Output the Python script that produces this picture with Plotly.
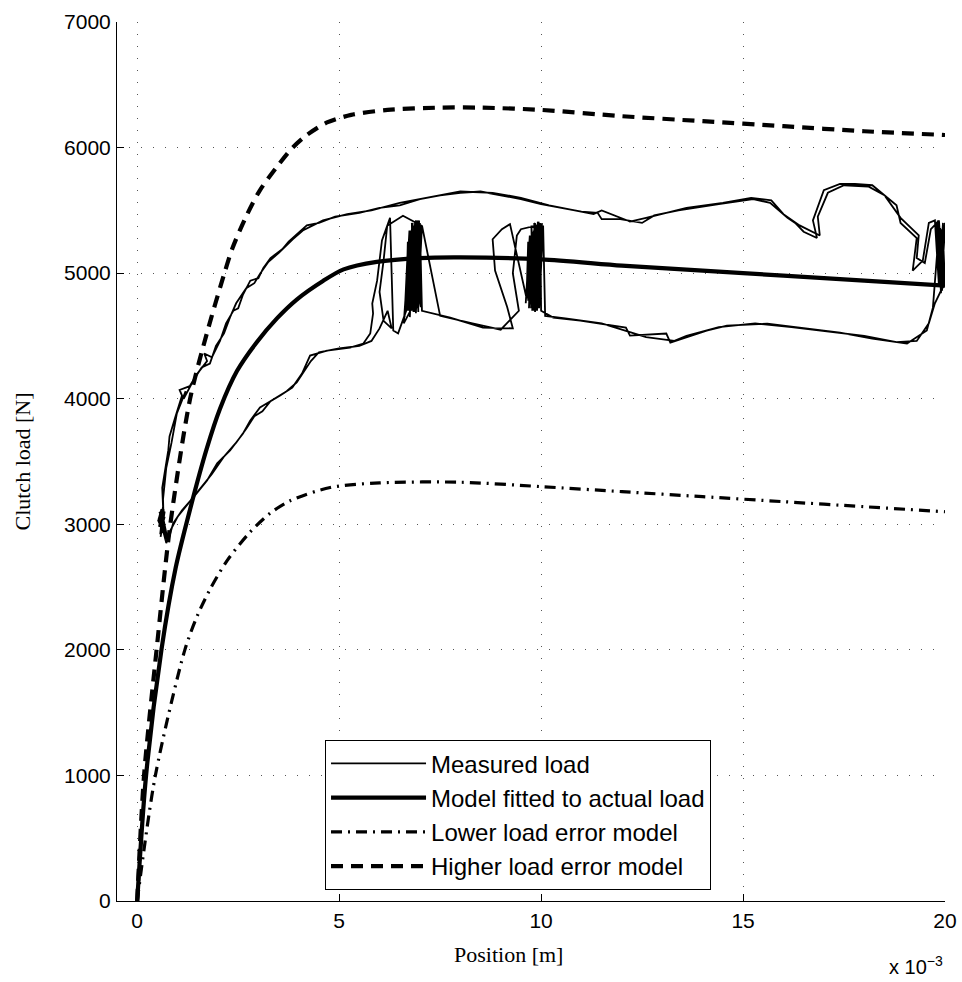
import plotly.graph_objects as go

# x values are in units of 1e-3 m (axis shows "x 10^-3")
model_x = [0, 0.22, 0.6, 0.95, 1.31, 1.72, 2.05, 2.47, 2.96, 3.46, 3.95, 4.61, 5.11, 5.93, 7.0, 8.0, 10.0, 12.0, 14.0, 16.0, 18.0, 20.0]
model_y = [0, 1000, 2000, 2650, 3120, 3600, 3920, 4220, 4450, 4640, 4790, 4940, 5030, 5090, 5120, 5125, 5110, 5060, 5020, 4980, 4940, 4900]

high_x = [0, 0.17, 0.48, 0.82, 1.31, 1.75, 2.16, 2.36, 2.67, 3.03, 3.50, 3.85, 4.2, 4.7, 5.3, 6.2, 7.5, 8.5, 10.0, 12.0, 14.0, 16.0, 18.0, 20.0]
high_y = [0, 1000, 2000, 3000, 4000, 4550, 5000, 5200, 5433, 5656, 5863, 6000, 6100, 6200, 6260, 6300, 6318, 6318, 6300, 6250, 6210, 6170, 6130, 6100]

low_x = [0, 0.45, 1.18, 1.5, 1.8, 2.23, 2.8, 3.3, 3.8, 4.78, 6.0, 8.0, 10.0, 12.0, 14.0, 16.0, 18.0, 20.0]
low_y = [0, 1000, 2000, 2280, 2480, 2713, 2940, 3090, 3190, 3293, 3330, 3335, 3300, 3260, 3220, 3180, 3140, 3100]

measured_x = [
    # pass 1: start cluster
    0.60, 0.55, 0.70, 0.58, 0.66, 0.52, 0.72, 0.62, 0.57, 0.68, 0.54, 0.64,
    # upper branch
    0.62, 0.77, 0.80, 0.94, 1.11, 1.05, 1.30, 1.49, 1.73, 1.66, 1.85, 2.05, 2.20, 2.38, 2.50, 2.62, 2.80, 3.00,
    3.12, 3.30, 3.59, 3.75, 3.96, 4.20, 4.50, 4.90, 5.50, 6.00, 6.50, 7.00, 7.50, 8.00, 8.50, 9.00, 9.50, 10.00,
    11.00, 11.40, 11.50, 11.96, 12.50, 12.80, 13.40, 14.40, 15.25, 15.67, 16.10, 16.29, 16.50, 16.83, 16.73, 17.00,
    17.40, 17.77, 18.20, 18.80, 18.90, 19.30, 19.20, 19.45, 19.60, 19.75,
    # cluster at 20
    19.85, 19.80, 19.90, 19.85, 19.95, 19.90, 20.00, 19.95, 19.85, 20.00, 19.90, 19.82, 19.92, 19.88, 19.97, 19.84,
    # lower branch back
    19.70, 19.55, 19.06, 18.20, 17.40, 16.60, 15.60, 14.60, 14.10, 13.20, 13.10, 12.20, 12.10, 10.97, 10.30,
    # cluster at 10
    10.00, 9.98, 9.90, 9.95, 9.85, 9.92, 9.82, 9.88, 9.78, 9.85, 9.75, 9.80, 9.70, 9.75, 9.66, 9.70, 9.62,
    9.72, 9.80, 9.76, 9.86, 9.83, 9.93, 9.90, 9.96, 9.68, 9.64,
    9.23, 9.03, 8.80, 8.86, 9.16, 9.30,
    8.56, 7.75,
    # cluster at 7
    7.05, 7.00, 6.92, 6.98, 6.88, 6.95, 6.85, 6.90, 6.82, 6.88, 6.78, 6.85, 6.75, 6.80, 6.72, 6.78, 6.68, 6.70, 6.62,
    6.74, 6.84, 6.80, 6.90, 6.86, 6.96, 6.93, 7.02, 6.70, 6.66,
    6.46, 6.34, 6.30, 6.26, 6.06, 5.94, 5.82, 5.84, 5.77, 5.60, 5.27,
    # lower branch to start
    4.70, 4.28, 4.20, 4.08, 3.84, 3.54, 3.04, 2.80, 2.62, 2.30, 1.98, 1.73, 1.39, 1.11, 0.89, 0.77, 0.65,
    # pass 2: cluster
    0.68, 0.56, 0.74, 0.60, 0.53, 0.66,
    # upper branch
    0.64, 0.72, 0.85, 0.98, 1.20, 1.15, 1.40, 1.60, 1.80, 1.95, 2.15, 2.30, 2.45, 2.70, 2.90, 3.05, 3.25, 3.50,
    3.85, 4.10, 4.60, 5.20, 5.80, 6.50, 7.20, 8.00, 8.80, 9.50, 10.20, 10.80, 11.30, 11.50, 12.20, 12.60, 13.00,
    13.60, 14.50, 15.20, 15.70, 16.00, 16.40, 16.90, 16.85, 17.10, 17.50, 18.10, 18.50, 18.90, 19.35, 19.30,
    19.50, 19.65, 19.80,
    # cluster at 20
    19.95, 19.85, 19.90, 20.00, 19.85, 19.95, 19.90, 19.98, 19.88, 19.80, 19.93, 19.86, 19.96,
    # lower branch
    19.75, 19.60, 19.30, 18.80, 18.00, 17.00, 16.20, 15.30, 14.40, 13.60, 13.30, 12.60, 12.30, 11.50, 10.60, 10.10,
    # cluster at 10
    10.05, 9.95, 10.00, 9.90, 9.95, 9.85, 9.90, 9.80, 9.85, 9.75, 9.82, 9.72, 9.78, 9.68, 9.70,
    9.76, 9.88, 9.84, 9.94, 9.92, 10.02,
    9.50, 9.40, 9.30, 9.45,
    9.00, 8.30, 7.50,
    # cluster at 7
    7.05, 6.95, 7.00, 6.90, 6.95, 6.85, 6.90, 6.80, 6.85, 6.75, 6.82, 6.72, 6.78, 6.70, 6.75, 6.60,
    6.78, 6.88, 6.84, 6.94, 6.92, 7.03,
    6.58, 6.19, 6.10, 6.00, 6.10, 6.30, 6.20, 6.00, 5.80, 5.50,
    # lower branch
    5.00, 4.50, 4.30, 4.15, 3.95, 3.70, 3.30, 3.10, 2.90, 2.70, 2.45, 2.15, 1.85, 1.55, 1.25, 1.00, 0.82, 0.72,
    0.60, 0.55, 0.68, 0.58, 0.64,
]
measured_y = [
    3050, 3100, 2950, 3000, 3120, 3030, 2880, 3080, 2920, 3060, 2980, 3140,
    3290, 3590, 3700, 3850, 4025, 4070, 4100, 4200, 4300, 4360, 4330, 4460, 4600, 4700, 4720, 4830, 4940, 4960,
    5040, 5120, 5190, 5250, 5310, 5380, 5400, 5450, 5480, 5520, 5540, 5590, 5620, 5640, 5650, 5620, 5590, 5550,
    5490, 5480, 5430, 5430, 5400, 5460, 5500, 5550, 5590, 5560, 5440, 5400, 5330, 5280, 5420, 5660,
    5710, 5710, 5700, 5540, 5400, 5280, 5020, 5100, 5400, 5420,
    4900, 5400, 4850, 5380, 4880, 5350, 4900, 5300, 4950, 5400, 4840, 5420, 4870, 5360, 4920, 5300,
    4725, 4543, 4439, 4479, 4527, 4558, 4598, 4582, 4543, 4447, 4519, 4503, 4566, 4622, 4646,
    4700, 5400, 4720, 5380, 4690, 5410, 4740, 5360, 4700, 5400, 4760, 5330, 4720, 5280, 4800, 5200, 4760,
    5300, 4730, 5380, 4700, 5400, 4720, 5350, 4750, 5250, 4800,
    5390, 5350, 5270, 5020, 4730, 4560,
    4566, 4646,
    4700, 5380, 4720, 5420, 4690, 5400, 4740, 5360, 4700, 5410, 4720, 5380, 4680, 5350, 4740, 5300, 4700, 5200, 4650,
    5340, 4700, 5400, 4720, 5380, 4690, 5360, 4730, 5250, 4700,
    4520, 4543, 5000, 5440, 5260, 4940, 4757, 4678, 4519, 4439, 4407,
    4383, 4344, 4280, 4200, 4089, 4025, 3930, 3827, 3723, 3588, 3485, 3349, 3214, 3111, 3007, 2872, 2950,
    2980, 3060, 2900, 3120, 3040, 2960,
    3200, 3450, 3650, 3880, 4060, 4000, 4150, 4250, 4280, 4420, 4520, 4650, 4760, 4880, 4920, 5000, 5090, 5160,
    5270, 5340, 5420, 5470, 5500, 5560, 5600, 5650, 5640, 5600, 5540, 5500, 5470, 5500, 5410, 5440, 5470,
    5520, 5560, 5600, 5580, 5470, 5380, 5300, 5450, 5640, 5700, 5690, 5620, 5440, 5300, 5120,
    5080, 5350, 5400,
    4950, 5420, 4880, 5350, 4900, 5400, 4870, 5380, 4920, 5410, 4860, 5370, 4900,
    4760, 4600, 4460, 4450, 4500, 4540, 4570, 4600, 4570, 4500, 4460, 4490, 4520, 4600, 4640, 4660,
    5380, 4720, 5350, 4700, 5400, 4740, 5360, 4700, 5300, 4720, 5340, 4750, 5260, 4780, 5200,
    4720, 5380, 4700, 5410, 4730, 5390,
    5350, 5300, 5000, 4700,
    4550, 4600, 4660,
    5380, 4720, 5400, 4680, 5360, 4700, 5420, 4700, 5380, 4650, 5400, 4700, 5340, 4720, 5300, 4600,
    4710, 5400, 4690, 5420, 4720, 5380,
    5457, 5378, 5100, 4850, 4620, 4560, 4700, 4560, 4460, 4420,
    4400, 4370, 4300, 4230, 4130, 4060, 3980, 3900, 3860, 3760, 3650, 3540, 3400, 3280, 3160, 3060, 2950, 2850,
    3000, 3060, 3100, 2900, 3020,
]

x_ticks = [0, 5, 10, 15, 20]
y_ticks = [0, 1000, 2000, 3000, 4000, 5000, 6000, 7000]

fig = go.Figure()
fig.add_trace(go.Scatter(x=measured_x, y=measured_y, mode="lines", name="Measured load",
                         line=dict(color="black", width=1.8)))
fig.add_trace(go.Scatter(x=model_x, y=model_y, mode="lines", name="Model fitted to actual load",
                         line=dict(color="black", width=4.2, shape="spline", smoothing=0.8)))
fig.add_trace(go.Scatter(x=low_x, y=low_y, mode="lines", name="Lower load error model",
                         line=dict(color="black", width=3.2, dash="11px,6px,2px,6px", shape="spline", smoothing=0.8)))
fig.add_trace(go.Scatter(x=high_x, y=high_y, mode="lines", name="Higher load error model",
                         line=dict(color="black", width=4.2, dash="12px,8px", shape="spline", smoothing=0.8)))

fnt = "Liberation Sans, Arial, sans-serif"
serif = "Liberation Serif, DejaVu Serif, serif"
axis_common = dict(ticks="inside", ticklen=7, tickcolor="black", tickwidth=1,
                   showline=True, linecolor="black", linewidth=1, mirror=False,
                   showgrid=True, gridcolor="#555555", griddash="1px,11px", gridwidth=1,
                   zeroline=False, automargin=False, tickfont=dict(size=21, family=fnt),
                   ticklabelstandoff=1)
fig.update_layout(
    width=962, height=982,
    margin=dict(l=117, r=17, t=22, b=81),
    paper_bgcolor="white", plot_bgcolor="white",
    font=dict(family=fnt, size=20, color="black"),
    showlegend=True,
    legend=dict(x=0.251, y=0.183, xanchor="left", yanchor="top",
                bgcolor="white", bordercolor="black", borderwidth=1.2,
                font=dict(family=fnt, size=24, color="black"),
                itemwidth=95, tracegroupgap=0),
    xaxis=dict(range=[-0.5, 20], tickmode="array", tickvals=x_ticks, **axis_common),
    yaxis=dict(range=[0, 7000], tickmode="array", tickvals=y_ticks, **axis_common),
    annotations=[
        dict(text="Position [m]", xref="paper", yref="paper", x=0.473, y=-0.0614,
             xanchor="center", yanchor="middle", showarrow=False,
             font=dict(family=serif, size=22)),
        dict(text="Clutch load [N]", xref="paper", yref="paper", x=-0.1147, y=0.5,
             xanchor="center", yanchor="middle", showarrow=False, textangle=-90,
             font=dict(family=serif, size=22)),
        dict(text="x 10<sup>−3</sup>", xref="paper", yref="paper", x=1.0, y=-0.073,
             xanchor="right", yanchor="middle", showarrow=False,
             font=dict(family=fnt, size=20)),
    ],
)
fig.write_html("out.html", config={"displayModeBar": False},
               post_script="document.body.style.margin='0px';document.body.style.overflow='hidden';")
